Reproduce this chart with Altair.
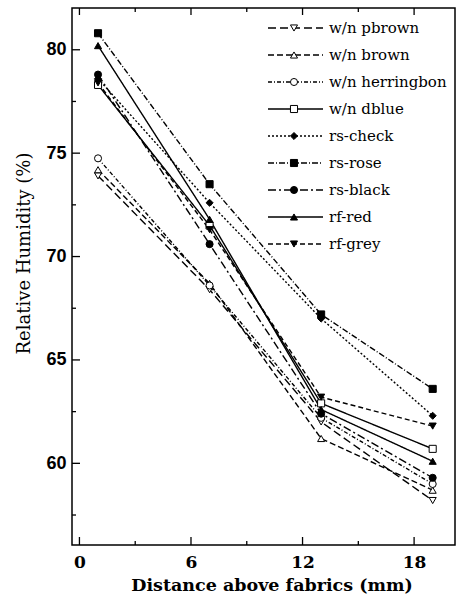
import altair as alt
import pandas as pd

# ---- data ----
series = ["w/n pbrown", "w/n brown", "w/n herringbon", "w/n dblue",
          "rs-check", "rs-rose", "rs-black", "rf-red", "rf-grey"]
distance = [1, 7, 13, 19]
pbrown = [73.9, 68.4, 62.0, 58.2]
brown = [74.2, 68.7, 61.2, 58.7]
herringbon = [74.75, 68.6, 62.2, 59.0]
dblue = [78.3, 71.5, 62.9, 60.7]
check = [78.6, 72.6, 67.0, 62.3]
rose = [80.8, 73.5, 67.2, 63.6]
black = [78.8, 70.6, 62.4, 59.3]
red = [80.2, 71.8, 62.6, 60.1]
grey = [78.4, 71.3, 63.2, 61.8]
values = [pbrown, brown, herringbon, dblue, check, rose, black, red, grey]

x_major = [0, 6, 12, 18]
x_minor = [3, 9, 15]
y_major = [60, 65, 70, 75, 80]
y_minor = [57.5, 62.5, 67.5, 72.5, 77.5]

# ---- styles ----
dash_patterns = [[8, 4], [6, 3], [4, 2, 1, 2], [1, 0], [2, 2],
                 [6, 2, 1, 2], [8, 3, 2, 3], [1, 0], [5, 3]]
shapes = ["triangle-down", "triangle-up", "circle", "square", "diamond",
          "square", "circle", "triangle-up", "triangle-down"]
fills = ["white"] * 4 + ["black"] * 5
strokes = ["black"] * 9
series_p = [s + " " for s in series]  # separate domain for the marker legend

rows = []
for name, name_p, vals in zip(series, series_p, values):
    for d, v in zip(distance, vals):
        rows.append({"series": name, "series_p": name_p, "x": d, "y": v})
df = pd.DataFrame(rows)

xs = alt.Scale(domain=[-0.4, 20.2], nice=False, zero=False)
ys = alt.Scale(domain=[56.05, 82.02], nice=False, zero=False)

W, H = 383, 537
SERIF = "DejaVu Serif"

line_legend = alt.Legend(
    orient="none", legendX=195, legendY=6.5, title=None,
    symbolType="stroke", symbolSize=3025, symbolStrokeWidth=1.4,
    symbolStrokeColor="black", labelFont=SERIF, labelFontSize=15,
    labelColor="black", labelOffset=5, clipHeight=27, rowPadding=0,
    padding=0, labelLimit=300,
)
shape_legend = alt.Legend(
    orient="none", legendX=217, legendY=6.5, title=None,
    symbolSize=50, symbolStrokeWidth=1, symbolStrokeColor="black",
    labelExpr="''", clipHeight=27, rowPadding=0, padding=0,
)

lines = alt.Chart(df).mark_line(color="black", strokeWidth=1.4).encode(
    x=alt.X("x:Q", scale=xs, axis=alt.Axis(
        values=x_major, orient="bottom", tickSize=0, domain=False,
        grid=False, labelPadding=9, labelFlush=False, labelFont=SERIF,
        labelFontSize=17, labelFontWeight="bold",
        title="Distance above fabrics (mm)", titleFont=SERIF,
        titleFontSize=17.5, titleFontWeight="bold", titlePadding=6,
        titleX=199.5)),
    y=alt.Y("y:Q", scale=ys, axis=alt.Axis(
        values=y_major, orient="left", tickSize=0, domain=False,
        grid=False, labelPadding=6, labelFont="Liberation Sans",
        labelFontSize=18, labelFontWeight="bold",
        title="Relative Humidity (%)", titleFont=SERIF, titleFontSize=18,
        titleFontWeight="normal", titlePadding=12, titleY=245)),
    strokeDash=alt.StrokeDash("series:N",
                              scale=alt.Scale(domain=series, range=dash_patterns),
                              legend=line_legend),
)

points = alt.Chart(df).mark_point(strokeWidth=1, size=50,
                                  opacity=1, fillOpacity=1).encode(
    x=alt.X("x:Q", scale=xs),
    y=alt.Y("y:Q", scale=ys),
    shape=alt.Shape("series_p:N", scale=alt.Scale(domain=series_p, range=shapes),
                    legend=shape_legend),
    fill=alt.Fill("series_p:N", scale=alt.Scale(domain=series_p, range=fills),
                  legend=shape_legend),
    stroke=alt.Stroke("series_p:N", scale=alt.Scale(domain=series_p, range=strokes),
                      legend=shape_legend),
)

# inward tick marks along the frame, placed by the shared scales
xt_major = pd.DataFrame({"v": x_major})
xt_minor = pd.DataFrame({"v": x_minor})
yt_major = pd.DataFrame({"v": y_major})
yt_minor = pd.DataFrame({"v": y_minor})

tick_style = dict(color="black", strokeWidth=1.3)


def xticks(frame, y0, y1):
    return alt.Chart(frame).mark_rule(**tick_style).encode(
        x=alt.X("v:Q", scale=xs), y=alt.value(y0), y2=alt.value(y1))


def yticks(frame, x0, x1):
    return alt.Chart(frame).mark_rule(**tick_style).encode(
        y=alt.Y("v:Q", scale=ys), x=alt.value(x0), x2=alt.value(x1))


ticks = [
    xticks(xt_major, H - 8, H), xticks(xt_minor, H - 4, H),
    xticks(xt_major, 0, 7), xticks(xt_minor, 0, 4),
    yticks(yt_major, 0, 8), yticks(yt_minor, 0, 4),
]

chart = alt.layer(lines, points, *ticks).properties(
    width=W, height=H,
    autosize=alt.AutoSizeParams(type="none"),
    padding={"left": 72, "top": 8, "right": 6, "bottom": 60},
    background="white",
).configure_view(
    stroke="black", strokeWidth=1.5
).configure_axis(
    labelColor="black", titleColor="black"
)

chart.save("out.html", embed_options={"renderer": "svg", "actions": False})
